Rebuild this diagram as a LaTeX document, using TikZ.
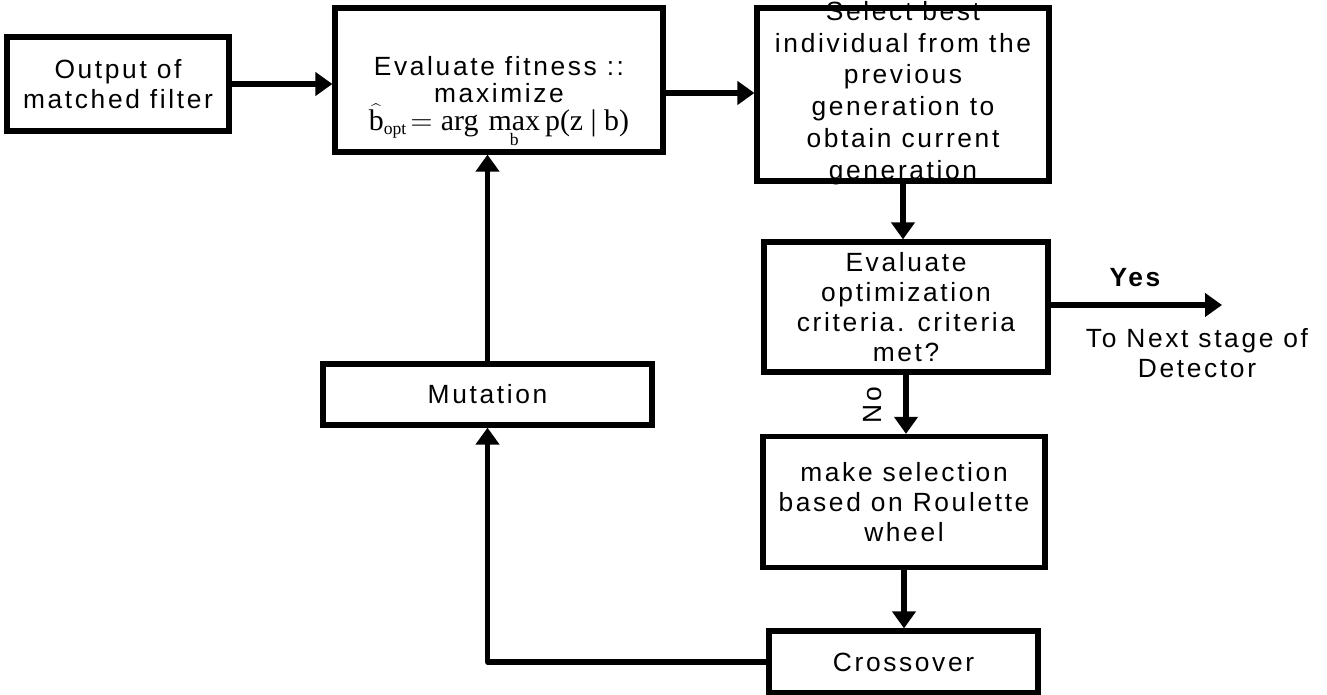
\documentclass[tikz,border=0pt]{standalone}
\usepackage{fontspec}
\setmainfont{Liberation Sans}[LetterSpace=10]
\newfontfamily\eqfont{Liberation Serif}
\usetikzlibrary{arrows.meta,positioning}

\begin{document}
\begin{tikzpicture}[x=0.02cm,y=-0.02cm, blk/.style={draw,line width=3pt,inner sep=0pt,align=center},arr/.style={-{Triangle[length=0.34cm,width=0.46cm]},line width=3pt},every node/.style={font=\fontsize{15}{17}\selectfont}]
              \useasboundingbox (0,0) rectangle (1327,695);

              \node[blk,minimum width=4.44cm,minimum height=1.88cm] (out) at (118,84) {Output of\\matched filter};

              \node[blk,minimum width=6.56cm,minimum height=2.88cm] (fit) at (499,80) {};
              \node[align=center,font=\fontsize{15}{15.5}\selectfont] (fittxt) at (499,102) {Evaluate fitness ::\\maximize\\
                {\eqfont\fontsize{17}{18}\selectfont $\widehat{\mbox{b}}_{\mbox{\fontsize{10}{10}\selectfont opt}}\!= \mbox{arg}\,\mathop{\mbox{max}}\limits_{\mbox{\fontsize{10}{10}\selectfont b}} \mbox{p(z | b)}$}};

              \node[align=center,font=\fontsize{15}{18.1}\selectfont] (seltxt) at (903,93) {Select best\\individual from the\\previous\\generation to\\obtain current\\generation};
              \node[blk,minimum width=5.84cm,minimum height=3.46cm] (sel) at (903,94.5) {};

              \node[blk,minimum width=5.68cm,minimum height=2.6cm] (crit) at (906,307) {Evaluate\\optimization\\criteria. criteria\\met?};
              \node[blk,minimum width=5.64cm,minimum height=2.62cm] (roul) at (904,502) {make selection\\based on Roulette\\wheel};
              \node[blk,minimum width=5.38cm,minimum height=1.24cm] (cross) at (903.5,662) {Crossover};
              \node[blk,minimum width=6.58cm,minimum height=1.22cm] (mut) at (487.5,394.5) {Mutation};

              \coordinate (yesend) at (1222,305);
              \node[font=\bfseries\fontsize{15}{17}\selectfont] (yes) at (1135,278) {Yes};
              \node[align=center] (next) at (1197,353) {To Next stage of\\Detector};
              \node[rotate=90] (no) at (873,405) {No};

              \draw[arr] (out.east) -- (out.east -| fit.west);
              \draw[arr] ([yshift=-0.26cm]fit.east) -- ([yshift=-0.26cm]fit.east -| sel.west);
              \draw[arr] (sel.south) -- (sel.south |- crit.north);
              \draw[arr] (crit.east |- yesend) -- (yesend);
              \draw[arr] (crit.south) -- (crit.south |- roul.north);
              \draw[arr] (roul.south) -- (roul.south |- cross.north);
              \draw[arr,line join=round] (cross.west) -| (mut.south);
              \draw[arr] (mut.north) -- (mut.north |- fit.south);
            \end{tikzpicture}
\end{document}
